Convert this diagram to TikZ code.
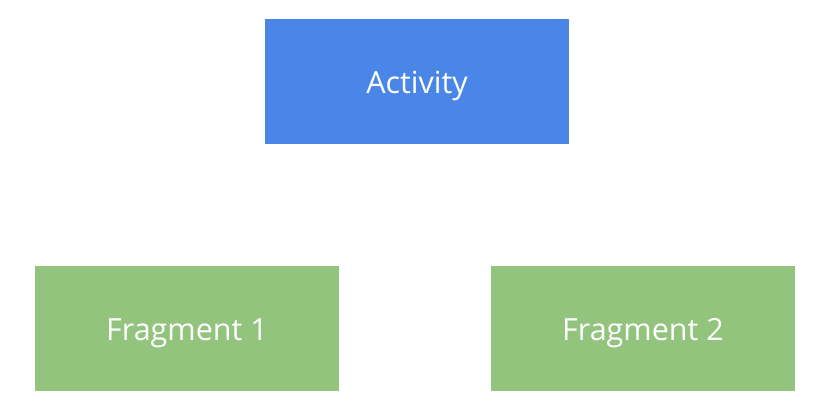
\documentclass[tikz,border=0pt]{standalone}
\usepackage{fontspec}
\setmainfont{Open Sans}
\definecolor{actblue}{HTML}{4A86E8}
\definecolor{fraggreen}{HTML}{93C47D}
\begin{document}
\begin{tikzpicture}[x=1pt,y=1pt,
  box/.style={minimum width=304pt,minimum height=125pt,inner sep=0pt},
  lbl/.style={text=white,font=\fontsize{30.5}{36}\selectfont,inner sep=0pt}]
\useasboundingbox (0,0) rectangle (822,416);
\node[box,fill=actblue] (act) at (417,334.5) {};
\node[box,fill=fraggreen] (f1) at (187,87.5) {};
\node[box,fill=fraggreen] (f2) at (643,87.5) {};
\node[lbl] (tact) at ([yshift=-4.5pt]act.center) {Activity};
\node[lbl] (tf1) at ([yshift=-4.5pt]f1.center) {Fragment 1};
\node[lbl] (tf2) at ([yshift=-4.5pt]f2.center) {Fragment 2};
\end{tikzpicture}
\end{document}
